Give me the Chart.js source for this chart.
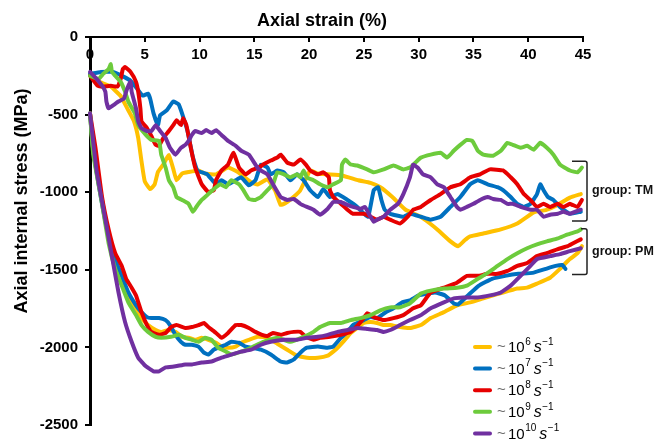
<!DOCTYPE html>
<html>
<head>
<meta charset="utf-8">
<script src="https://cdn.jsdelivr.net/npm/chart.js@4.4.1/dist/chart.umd.min.js"></script>
<style>
  html, body { margin: 0; padding: 0; background: #fff; }
  #wrap { width: 655px; height: 441px; }
</style>
</head>
<body>
<div id="wrap"><canvas id="grafico" width="655" height="441"></canvas></div>
<script>
// eixos
const xTitle = 'Axial strain (%)';
const yTitle = 'Axial internal stress (MPa)';
const xTicks = [0, 5, 10, 15, 20, 25, 30, 35, 40, 45];
const yTicks = [0, -500, -1000, -1500, -2000, -2500];

// legenda: taxas de deformação (expoente de 10) e cores
const rates = ['6', '7', '8', '9', '10'];
const colors = ['#FFC000', '#0070C0', '#E60000', '#6DCB3C', '#7030A0'];
const groupLabels = ['group: TM', 'group: PM'];
const groupRanges = [[-800, -1185], [-1235, -1530]];

// grupo TM: [strain %, stress MPa]
const tm6 = [[0,-240],[0.9,-290],[1.9,-320],[2.8,-380],[3.4,-460],[4.0,-540],[4.4,-650],[4.7,-800],[5.0,-930],[5.5,-980],[5.9,-950],[6.2,-870],[6.7,-820],[7.2,-760],[7.6,-850],[7.9,-923],[8.4,-880],[9.0,-870],[9.9,-860],[10.5,-880],[11.5,-885],[12.6,-841],[13.5,-870],[14.7,-936],[15.3,-950],[16.2,-917],[16.9,-990],[17.4,-1082],[18.0,-1063],[18.6,-1030],[19.2,-987],[20.1,-860],[20.8,-880],[21.7,-885],[23.0,-892],[24.5,-923],[25.6,-940],[26.5,-968],[27.6,-1031],[28.8,-1113],[30.2,-1158],[31.0,-1200],[31.7,-1240],[32.9,-1317],[33.6,-1348],[34.2,-1310],[34.7,-1285],[35.9,-1266],[37.5,-1240],[39.0,-1202],[40.5,-1130],[41.6,-1115],[42.6,-1085],[43.8,-1035],[44.8,-1012]];
const tm7 = [[0,-238],[1.0,-225],[2.1,-225],[3.1,-257],[3.7,-282],[4.3,-333],[4.8,-378],[5.3,-365],[5.5,-400],[5.8,-492],[6.2,-568],[6.4,-504],[7.0,-473],[7.6,-416],[8.1,-435],[8.4,-492],[8.9,-606],[9.4,-777],[9.8,-860],[10.7,-885],[11.5,-949],[12.0,-923],[12.6,-949],[13.3,-923],[13.8,-904],[14.5,-955],[15.1,-923],[15.6,-822],[16.2,-841],[16.5,-885],[17.1,-860],[17.7,-872],[18.3,-923],[18.9,-885],[19.5,-923],[20.1,-987],[20.8,-1031],[21.3,-980],[21.9,-1031],[22.6,-1012],[23.5,-1050],[24.4,-1095],[25.0,-1139],[25.4,-1158],[25.9,-987],[26.3,-968],[26.6,-1050],[26.9,-1113],[27.4,-1139],[28.6,-1158],[29.2,-1139],[30.2,-1158],[31.1,-1177],[32.0,-1158],[32.9,-1095],[33.8,-1031],[34.7,-949],[35.4,-923],[36.3,-949],[37.2,-968],[37.7,-987],[38.4,-1031],[39.0,-1075],[39.6,-1095],[40.2,-1075],[40.8,-1012],[41.1,-949],[41.4,-987],[41.8,-1031],[42.3,-1050],[42.9,-1095],[43.8,-1139],[44.8,-1126]];
const tm8 = [[0,-250],[0.7,-314],[1.2,-320],[1.9,-314],[2.5,-320],[2.8,-270],[3.0,-206],[3.2,-194],[3.7,-225],[4.2,-289],[4.4,-352],[4.6,-460],[4.7,-543],[5.2,-587],[5.6,-638],[6.0,-695],[6.3,-701],[6.7,-650],[7.2,-606],[7.6,-568],[7.9,-536],[8.3,-568],[8.5,-523],[8.8,-568],[9.2,-714],[9.6,-841],[10.2,-949],[10.8,-999],[11.3,-987],[11.5,-923],[12.0,-860],[12.6,-822],[13.1,-746],[13.6,-841],[14.2,-885],[14.7,-860],[15.4,-841],[15.8,-822],[16.5,-796],[17.1,-777],[17.4,-758],[18.0,-809],[18.6,-822],[19.2,-790],[19.7,-822],[20.1,-860],[20.8,-885],[21.3,-872],[21.8,-904],[21.9,-987],[22.2,-1031],[22.9,-1075],[23.5,-1113],[24.0,-1139],[25.0,-1139],[25.6,-1158],[26.2,-1177],[26.8,-1158],[27.4,-1177],[28.3,-1202],[29.0,-1158],[29.5,-1113],[30.2,-1095],[31.1,-1050],[32.0,-1012],[32.9,-968],[33.8,-949],[34.7,-904],[35.6,-885],[36.5,-853],[37.7,-860],[38.4,-904],[39.0,-949],[39.6,-1012],[40.2,-1050],[40.8,-1095],[41.4,-1075],[42.0,-1095],[42.7,-1075],[43.2,-1095],[43.8,-1075],[44.5,-1095],[44.9,-1050]];
const tm9 = [[0,-250],[0.8,-270],[1.2,-238],[1.7,-206],[1.9,-175],[2.0,-225],[2.3,-250],[2.8,-289],[3.2,-352],[3.5,-416],[4.1,-492],[4.4,-568],[5.1,-631],[5.6,-663],[6.3,-669],[6.5,-758],[6.9,-841],[7.2,-923],[7.6,-968],[7.9,-1031],[8.4,-1050],[9.0,-1075],[9.4,-1126],[9.7,-1095],[10.2,-1050],[10.8,-1012],[11.5,-968],[11.9,-949],[12.4,-968],[12.9,-923],[13.6,-949],[14.0,-987],[14.5,-1044],[15.1,-1050],[15.6,-1031],[16.2,-987],[16.7,-949],[17.1,-872],[17.7,-885],[18.3,-904],[18.9,-885],[19.2,-904],[19.5,-860],[19.8,-904],[20.4,-923],[21.0,-949],[21.7,-968],[22.2,-949],[22.9,-923],[23.0,-822],[23.3,-790],[23.8,-822],[24.4,-828],[25.3,-853],[25.9,-872],[26.8,-853],[27.7,-828],[28.6,-853],[29.2,-841],[29.9,-796],[30.2,-777],[31.1,-758],[32.0,-746],[32.6,-777],[33.2,-733],[33.8,-695],[34.4,-663],[34.9,-669],[35.4,-733],[35.9,-758],[36.8,-765],[37.5,-733],[38.1,-682],[38.6,-695],[39.3,-714],[39.9,-701],[40.5,-726],[41.1,-682],[41.7,-714],[42.3,-758],[42.9,-822],[43.8,-860],[44.5,-872],[44.9,-841]];
const tm10 = [[0,-225],[0.6,-270],[1.1,-314],[1.4,-352],[1.5,-416],[1.7,-460],[2.1,-441],[2.6,-416],[3.1,-397],[3.3,-352],[3.5,-314],[3.7,-289],[3.8,-352],[4.2,-460],[4.4,-543],[4.7,-587],[5.2,-606],[5.6,-606],[6.0,-568],[6.4,-606],[6.9,-650],[7.3,-714],[7.8,-758],[8.3,-714],[8.7,-695],[9.0,-669],[9.3,-631],[9.6,-606],[10.2,-619],[10.6,-600],[11.1,-619],[11.5,-600],[12.0,-631],[12.6,-669],[13.3,-701],[13.8,-733],[14.5,-758],[15.1,-822],[15.4,-853],[15.6,-860],[16.2,-885],[16.7,-949],[17.4,-1031],[18.0,-1050],[18.6,-1044],[19.2,-1075],[19.8,-1095],[20.4,-1113],[21.0,-1145],[21.7,-1107],[22.2,-1063],[22.9,-1063],[23.5,-1082],[24.0,-1095],[24.7,-1107],[25.1,-1095],[25.6,-1158],[25.9,-1190],[26.2,-1177],[26.8,-1158],[27.4,-1113],[28.1,-1075],[28.6,-1012],[29.2,-904],[29.5,-822],[29.9,-841],[30.4,-885],[31.1,-904],[31.7,-949],[32.3,-968],[32.9,-1031],[33.5,-1095],[33.8,-1113],[34.4,-1095],[35.0,-1075],[35.6,-1050],[36.3,-1031],[36.8,-1044],[37.5,-1050],[38.1,-1075],[38.6,-1075],[39.3,-1095],[40.2,-1113],[40.8,-1113],[41.4,-1158],[42.0,-1145],[42.7,-1139],[43.2,-1126],[43.8,-1139],[44.8,-1113]];

// grupo PM
const pm6 = [[0,-492],[0.3,-733],[1.1,-1050],[1.7,-1285],[2.3,-1456],[2.9,-1583],[3.5,-1684],[4.2,-1748],[4.7,-1811],[5.3,-1856],[6.0,-1888],[6.5,-1900],[7.2,-1888],[7.8,-1900],[8.4,-1932],[9.0,-1938],[9.6,-1951],[10.2,-1938],[10.8,-1951],[11.5,-1970],[12.0,-1995],[12.6,-2002],[13.3,-1995],[13.8,-1970],[14.5,-1951],[15.3,-1932],[16.2,-1938],[17.1,-1976],[18.0,-2015],[18.9,-2053],[19.8,-2066],[20.8,-2066],[21.7,-2053],[22.2,-2027],[22.6,-2002],[23.1,-1964],[23.8,-1907],[24.4,-1875],[25.0,-1843],[25.6,-1837],[26.2,-1843],[26.8,-1856],[27.4,-1856],[28.3,-1869],[29.2,-1875],[30.2,-1856],[31.1,-1811],[32.3,-1773],[33.5,-1729],[34.7,-1710],[35.9,-1684],[36.8,-1665],[37.7,-1646],[39.0,-1621],[39.9,-1615],[40.8,-1589],[42.0,-1551],[42.9,-1494],[43.8,-1431],[44.5,-1393],[44.9,-1348]];
const pm7 = [[0,-492],[0.3,-733],[1.1,-1075],[1.7,-1285],[2.3,-1431],[2.9,-1539],[3.5,-1646],[4.2,-1729],[4.7,-1773],[5.2,-1805],[5.6,-1811],[6.3,-1811],[6.9,-1824],[7.3,-1856],[7.8,-1919],[8.3,-1964],[8.7,-1983],[9.3,-1983],[9.9,-1995],[10.4,-2034],[10.8,-2046],[11.3,-2015],[11.7,-2002],[12.4,-1983],[12.9,-1964],[13.6,-1970],[14.2,-1995],[14.7,-2002],[15.6,-2015],[16.5,-2046],[17.4,-2091],[18.0,-2097],[18.6,-2078],[19.2,-2034],[19.8,-2002],[20.8,-1995],[21.7,-2002],[22.2,-1995],[22.9,-1938],[23.5,-1900],[24.0,-1856],[25.0,-1824],[25.6,-1805],[26.2,-1811],[27.0,-1773],[27.7,-1748],[28.5,-1710],[29.2,-1697],[30.0,-1665],[30.9,-1653],[31.5,-1646],[32.4,-1665],[33.2,-1716],[33.6,-1723],[34.5,-1665],[35.5,-1602],[36.7,-1558],[37.9,-1539],[39.1,-1526],[40.4,-1520],[41.6,-1494],[42.5,-1475],[43.1,-1469],[43.4,-1494]];
const pm8 = [[0,-492],[0.5,-714],[1.1,-1031],[1.7,-1240],[2.3,-1393],[2.9,-1475],[3.3,-1558],[3.8,-1615],[4.2,-1665],[4.7,-1773],[5.2,-1856],[5.6,-1900],[6.3,-1919],[6.9,-1907],[7.4,-1869],[7.9,-1856],[8.7,-1875],[9.3,-1869],[9.9,-1856],[10.4,-1843],[10.8,-1869],[11.5,-1907],[12.0,-1938],[12.6,-1907],[13.3,-1856],[13.8,-1856],[14.5,-1875],[15.1,-1900],[15.7,-1919],[16.2,-1926],[16.7,-1907],[17.4,-1919],[18.0,-1907],[18.6,-1900],[19.2,-1900],[19.7,-1932],[20.4,-1951],[21.0,-1938],[21.9,-1932],[22.9,-1919],[23.8,-1900],[24.7,-1837],[25.3,-1780],[25.9,-1805],[26.8,-1824],[27.7,-1811],[28.6,-1792],[29.5,-1748],[30.2,-1729],[31.1,-1646],[32.3,-1615],[33.5,-1583],[34.4,-1539],[35.4,-1539],[36.3,-1526],[37.2,-1526],[38.1,-1507],[39.0,-1475],[39.9,-1456],[40.8,-1412],[41.7,-1393],[42.7,-1367],[43.6,-1348],[44.1,-1329],[44.8,-1304]];
const pm9 = [[0,-492],[0.3,-758],[1.1,-1075],[1.7,-1329],[2.3,-1494],[2.9,-1602],[3.5,-1710],[4.2,-1792],[4.7,-1856],[5.3,-1900],[6.0,-1932],[6.5,-1938],[7.4,-1932],[8.1,-1919],[8.7,-1938],[9.3,-1951],[9.9,-1964],[10.5,-1938],[11.1,-1951],[11.7,-2002],[12.4,-2027],[12.9,-2046],[13.8,-2027],[14.7,-2002],[15.8,-1964],[17.1,-1938],[18.3,-1964],[19.5,-1932],[20.4,-1900],[21.0,-1869],[21.9,-1843],[22.9,-1843],[23.8,-1824],[24.7,-1811],[25.6,-1792],[26.5,-1761],[27.4,-1742],[28.3,-1742],[29.2,-1716],[30.2,-1653],[31.1,-1634],[32.3,-1621],[33.5,-1615],[34.4,-1602],[35.4,-1558],[36.3,-1520],[37.2,-1475],[38.1,-1431],[39.0,-1393],[39.9,-1361],[40.8,-1336],[41.7,-1317],[42.7,-1298],[43.6,-1272],[44.5,-1253],[44.8,-1240]];
const pm10 = [[0,-492],[0.6,-860],[1.4,-1177],[2.0,-1412],[2.6,-1646],[3.2,-1837],[3.8,-1964],[4.4,-2066],[5.1,-2122],[5.8,-2154],[6.3,-2154],[6.9,-2129],[7.8,-2122],[8.7,-2110],[9.3,-2110],[10.2,-2097],[11.1,-2091],[12.0,-2066],[12.9,-2046],[13.8,-2027],[14.7,-2015],[15.6,-1983],[16.5,-1964],[17.7,-1951],[18.9,-1951],[19.8,-1938],[20.8,-1932],[21.7,-1919],[22.6,-1900],[23.5,-1888],[24.4,-1875],[25.3,-1881],[26.2,-1888],[26.8,-1900],[27.4,-1888],[28.3,-1856],[29.2,-1824],[30.2,-1792],[31.1,-1748],[32.3,-1710],[33.2,-1684],[34.1,-1678],[35.4,-1678],[36.5,-1665],[37.5,-1646],[38.4,-1602],[39.3,-1539],[40.2,-1475],[40.8,-1431],[42.0,-1412],[42.9,-1399],[43.8,-1380],[44.8,-1361]];

const tmSeries = [tm6, tm7, tm8, tm9, tm10];
const pmSeries = [pm6, pm7, pm8, pm9, pm10];

const fontSans = '"Liberation Sans", Arial, sans-serif';
let chart = null;

function toPoints(serie) {
  return serie.map(p => ({ x: p[0], y: p[1] }));
}

function montarDatasets() {
  const datasets = [];
  for (let i = 0; i < rates.length; i++) {
    const base = {
      borderColor: colors[i],
      borderWidth: 4,
      pointRadius: 0,
      tension: 0.12,
      fill: false,
      clip: 6,
      borderCapStyle: 'round',
      borderJoinStyle: 'round',
      order: rates.length - i
    };
    datasets.push(Object.assign({ label: 'TM 10^' + rates[i], data: toPoints(tmSeries[i]) }, base));
    datasets.push(Object.assign({ label: 'PM 10^' + rates[i], data: toPoints(pmSeries[i]) }, base));
  }
  return datasets;
}

// títulos, colchetes e legenda desenhados por cima
const extras = {
  id: 'extras',
  afterDraw(c) {
    const ctx = c.ctx;
    const yScale = c.scales.y;
    const area = c.chartArea;
    ctx.save();

    // títulos dos eixos
    ctx.fillStyle = '#000';
    ctx.font = 'bold 18px ' + fontSans;
    ctx.textAlign = 'center';
    ctx.textBaseline = 'middle';
    ctx.fillText(xTitle, 322, 21);
    ctx.save();
    ctx.translate(22, 201);
    ctx.rotate(-Math.PI / 2);
    ctx.fillText(yTitle, 0, 0);
    ctx.restore();

    // colchetes dos grupos
    ctx.strokeStyle = '#222';
    ctx.lineWidth = 1.5;
    const bx = area.right + 4;
    for (let g = 0; g < groupRanges.length; g++) {
      const top = yScale.getPixelForValue(groupRanges[g][0]);
      const bot = yScale.getPixelForValue(groupRanges[g][1]);
      const left = g === 0 ? bx - 15 : bx - 6;
      ctx.beginPath();
      ctx.moveTo(left, top);
      ctx.lineTo(bx - 2, top);
      ctx.quadraticCurveTo(bx, top, bx, top + 2);
      ctx.lineTo(bx, bot - 2);
      ctx.quadraticCurveTo(bx, bot, bx - 2, bot);
      ctx.lineTo(bx - 15, bot);
      ctx.stroke();
      ctx.fillStyle = '#111';
      ctx.font = 'bold 12.5px ' + fontSans;
      ctx.textAlign = 'left';
      ctx.fillText(groupLabels[g], bx + 5, (top + bot) / 2);
    }

    // legenda
    for (let i = 0; i < rates.length; i++) {
      const y = 347 + i * 21.6;
      ctx.strokeStyle = colors[i];
      ctx.lineWidth = 4;
      ctx.lineCap = 'round';
      ctx.beginPath();
      ctx.moveTo(475, y);
      ctx.lineTo(490, y);
      ctx.stroke();

      ctx.textAlign = 'left';
      ctx.textBaseline = 'middle';
      ctx.fillStyle = '#666';
      ctx.font = '15px ' + fontSans;
      ctx.fillText('~', 497, y);
      ctx.fillStyle = '#000';
      ctx.font = '15px ' + fontSans;
      ctx.fillText('10', 508, y + 1);
      let x = 508 + ctx.measureText('10').width + 0.5;
      ctx.font = '10px ' + fontSans;
      ctx.fillText(rates[i], x, y - 5);
      x += ctx.measureText(rates[i]).width + 3;
      ctx.font = 'italic 16px ' + fontSans;
      ctx.fillText('s', x, y + 1);
      x += ctx.measureText('s').width + 0.5;
      ctx.font = '10px ' + fontSans;
      ctx.fillText('\u22121', x, y - 5);
    }
    ctx.restore();
  }
};

function criarGrafico() {
  const ctx = document.getElementById('grafico').getContext('2d');
  if (chart !== null) chart.destroy();

  chart = new Chart(ctx, {
    type: 'line',
    data: { datasets: montarDatasets() },
    options: {
      responsive: false,
      animation: false,
      layout: { padding: { left: 0, right: 72, top: 0, bottom: 9 } },
      plugins: {
        legend: { display: false },
        tooltip: { enabled: false }
      },
      scales: {
        x: {
          type: 'linear',
          position: 'top',
          min: xTicks[0],
          max: xTicks[xTicks.length - 1],
          afterFit: s => { s.height = 37; },
          afterBuildTicks: s => { s.ticks = xTicks.map(v => ({ value: v })); },
          border: { color: '#000', width: 2 },
          grid: { drawOnChartArea: false, drawTicks: true, tickLength: -5, color: '#000', lineWidth: 2 },
          ticks: {
            mirror: true,
            padding: 9,
            color: '#000',
            font: { family: fontSans, size: 15, weight: 'bold' },
            callback: v => String(v)
          }
        },
        y: {
          type: 'linear',
          position: 'left',
          min: yTicks[yTicks.length - 1],
          max: yTicks[0],
          afterFit: s => { s.width = 90; },
          afterBuildTicks: s => { s.ticks = yTicks.map(v => ({ value: v })); },
          border: { color: '#000', width: 3 },
          grid: { drawOnChartArea: false, drawTicks: true, tickLength: 5, color: '#000', lineWidth: 2 },
          ticks: {
            padding: 7,
            color: '#000',
            font: { family: fontSans, size: 15, weight: 'bold' },
            callback: v => String(v)
          }
        }
      }
    },
    plugins: [extras]
  });
}

window.onload = function() {
  criarGrafico();
};
</script>
</body>
</html>
